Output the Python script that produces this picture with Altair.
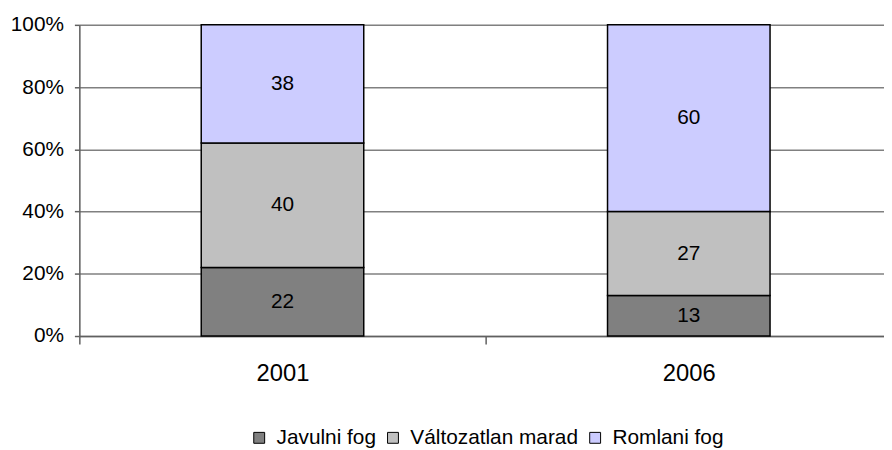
import altair as alt
import pandas as pd

years = ["2001", "2006"]
categories = ["Javulni fog", "Változatlan marad", "Romlani fog"]
values_2001 = [22, 40, 38]
values_2006 = [13, 27, 60]
colors = ["#808080", "#C0C0C0", "#CCCCFF"]
y_ticks = [0, 0.2, 0.4, 0.6, 0.8, 1.0]

rows = []
for yr, vals in zip(years, [values_2001, values_2006]):
    for i, (c, v) in enumerate(zip(categories, vals)):
        rows.append({"year": yr, "cat": c, "value": v, "order": i})
df = pd.DataFrame(rows)

FONT = "Liberation Sans"

x_scale = alt.Scale(range=[0, 820], paddingInner=0, paddingOuter=0)

x_enc = alt.X(
    "year:N",
    sort=years,
    scale=x_scale,
    axis=alt.Axis(
        title=None, labelAngle=0, labelFontSize=24, labelColor="#000000",
        labelPadding=18, tickBand="extent", tickSize=8, tickColor="#606060",
        tickWidth=1.5, domainColor="#606060", domainWidth=1.5, grid=False,
    ),
)

bars = alt.Chart(df).mark_bar(
    stroke="#000000", strokeWidth=1.5, width=alt.RelativeBandSize(0.4)
).encode(
    x=x_enc,
    y=alt.Y(
        "value:Q",
        stack="normalize",
        scale=alt.Scale(domain=[0, 1]),
        axis=alt.Axis(
            title=None, values=y_ticks, format=".0%", labelFontSize=21,
            labelColor="#000000", labelPadding=11, tickSize=5,
            tickColor="#606060", tickWidth=1.5, domainColor="#606060",
            domainWidth=1.5, gridColor="#808080", gridWidth=1.5,
        ),
    ),
    color=alt.Color(
        "cat:N",
        sort=categories,
        scale=alt.Scale(domain=categories, range=colors),
        legend=alt.Legend(
            title=None, orient="none", direction="horizontal",
            legendX=171, legendY=406, symbolType="square", symbolSize=121,
            symbolStrokeColor="#000000", symbolStrokeWidth=1,
            labelFontSize=21, labelColor="#000000", columnPadding=6,
            symbolOffset=0, labelOffset=7, labelLimit=400,
        ),
    ),
    order=alt.Order("order:Q"),
)

labels = alt.Chart(df).transform_stack(
    stack="value", groupby=["year"], as_=["y0", "y1"],
    sort=[alt.SortField("order", order="ascending")], offset="normalize",
).transform_calculate(
    mid="(datum.y0 + datum.y1) / 2"
).mark_text(fontSize=21, font=FONT, color="#000000", baseline="middle").encode(
    x=alt.X("year:N", sort=years, scale=x_scale),
    y=alt.Y("mid:Q"),
    text=alt.Text("value:Q"),
)

chart = alt.layer(bars, labels).properties(
    width=812, height=314,
    autosize=alt.AutoSizeParams(type="none"),
    padding={"left": 72, "top": 15, "right": 0, "bottom": 111},
).configure_view(stroke=None).configure(
    font=FONT
).configure_axis(labelFont=FONT).configure_legend(labelFont=FONT)

chart.save("out.html", embed_options={"renderer": "svg", "actions": False})
